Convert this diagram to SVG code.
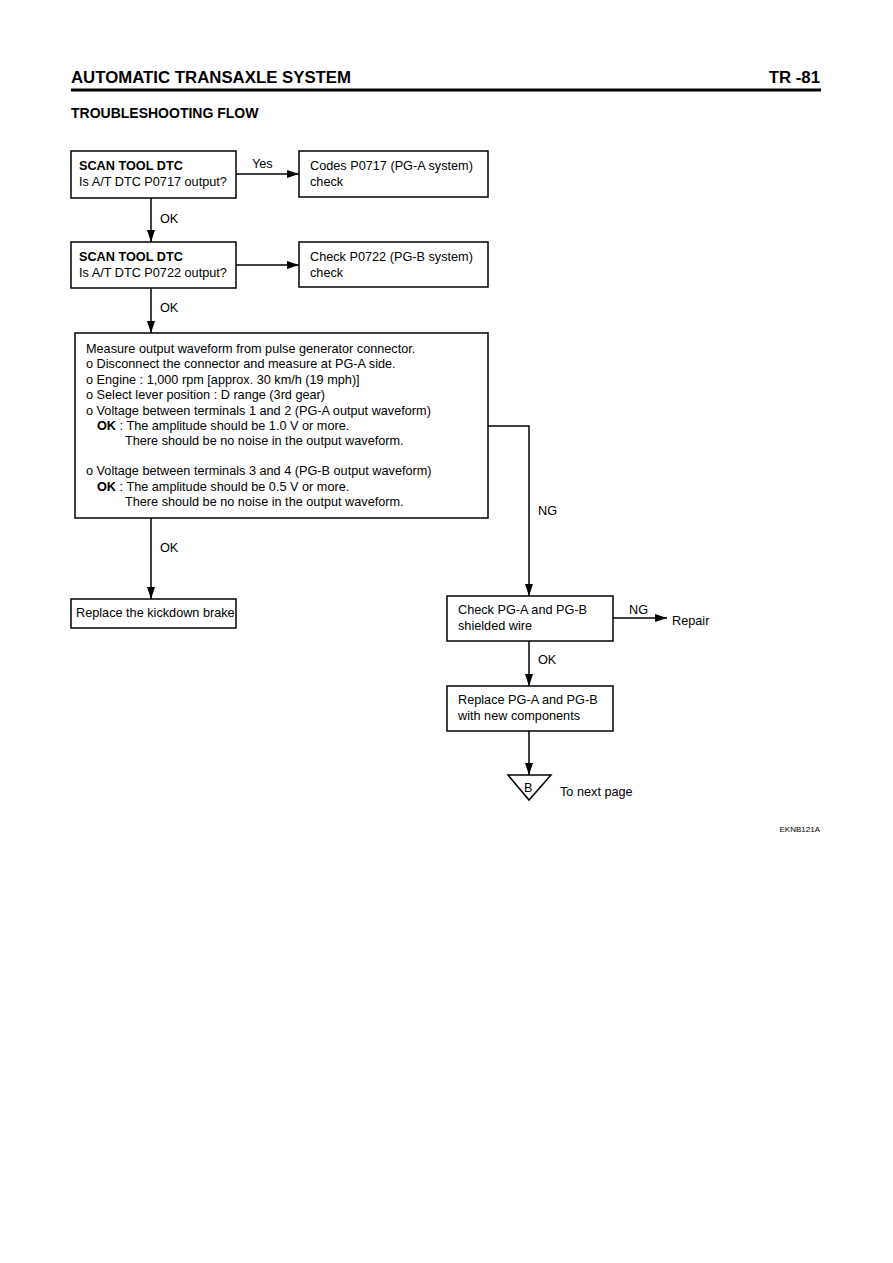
<svg xmlns="http://www.w3.org/2000/svg" width="893" height="1263" viewBox="0 0 893 1263">
<defs>
<marker id="ah" markerWidth="12" markerHeight="8" refX="12" refY="4" orient="auto" markerUnits="userSpaceOnUse">
<path d="M0,0 L12,4 L0,8 Z" fill="#000"/>
</marker>
<style>
text{font-family:"Liberation Sans",Arial,sans-serif;font-size:12.7px;fill:#000}
.b{font-weight:bold}
.box{fill:#fff;stroke:#000;stroke-width:1.5}
.ln{fill:none;stroke:#000;stroke-width:1.5}
.ar{fill:none;stroke:#000;stroke-width:1.5;marker-end:url(#ah)}
</style>
</defs>
<rect width="893" height="1263" fill="#fff"/>
<g id="header">
<text x="71" y="83" class="b" style="font-size:16.8px">AUTOMATIC TRANSAXLE SYSTEM</text>
<text x="820" y="83" class="b" style="font-size:16.8px" text-anchor="end">TR -81</text>
<rect x="71" y="88.5" width="750" height="3" fill="#000"/>
<text x="71" y="118" class="b" style="font-size:14px">TROUBLESHOOTING FLOW</text>
<text x="820" y="832" style="font-size:8px" text-anchor="end">EKNB121A</text>
</g>
<g id="connectors">
<line class="ar" x1="236" y1="174" x2="299" y2="174"/>
<text x="252" y="168">Yes</text>
<line class="ar" x1="151" y1="198" x2="151" y2="242"/>
<text x="160" y="223">OK</text>
<line class="ar" x1="236" y1="265" x2="299" y2="265"/>
<line class="ar" x1="151" y1="288" x2="151" y2="333"/>
<text x="160" y="312">OK</text>
<polyline class="ar" points="488,426 529,426 529,596"/>
<text x="538" y="515">NG</text>
<line class="ar" x1="151" y1="518" x2="151" y2="599"/>
<text x="160" y="552">OK</text>
<line class="ar" x1="613" y1="618" x2="667" y2="618"/>
<text x="629" y="614">NG</text>
<line class="ar" x1="529" y1="641" x2="529" y2="686"/>
<text x="538" y="664">OK</text>
<line class="ar" x1="529" y1="731" x2="529" y2="775"/>
</g>
<g id="n1">
<rect class="box" x="71" y="151" width="165" height="47"/>
<text x="79" y="170" class="b">SCAN TOOL DTC</text>
<text x="79" y="186">Is A/T DTC P0717 output?</text>
</g>
<g id="n2">
<rect class="box" x="299" y="151" width="189" height="46"/>
<text x="310" y="170">Codes P0717 (PG-A system)</text>
<text x="310" y="186">check</text>
</g>
<g id="n3">
<rect class="box" x="71" y="242" width="165" height="46"/>
<text x="79" y="261" class="b">SCAN TOOL DTC</text>
<text x="79" y="277">Is A/T DTC P0722 output?</text>
</g>
<g id="n4">
<rect class="box" x="299" y="242" width="189" height="45"/>
<text x="310" y="261">Check P0722 (PG-B system)</text>
<text x="310" y="277">check</text>
</g>
<g id="n5">
<rect class="box" x="75" y="333" width="413" height="185"/>
<text x="86" y="353">Measure output waveform from pulse generator connector.</text>
<text x="86" y="368">o Disconnect the connector and measure at PG-A side.</text>
<text x="86" y="384">o Engine : 1,000 rpm [approx. 30 km/h (19 mph)]</text>
<text x="86" y="399">o Select lever position : D range (3rd gear)</text>
<text x="86" y="415">o Voltage between terminals 1 and 2 (PG-A output waveform)</text>
<text x="97" y="430"><tspan class="b">OK</tspan> : The amplitude should be 1.0 V or more.</text>
<text x="125" y="445">There should be no noise in the output waveform.</text>
<text x="86" y="475">o Voltage between terminals 3 and 4 (PG-B output waveform)</text>
<text x="97" y="491"><tspan class="b">OK</tspan> : The  amplitude should be 0.5 V or more.</text>
<text x="125" y="506">There should be no noise in the output waveform.</text>
</g>
<g id="n6">
<rect class="box" x="71" y="599" width="165" height="29"/>
<text x="76" y="617">Replace the kickdown brake</text>
</g>
<g id="n7">
<rect class="box" x="447" y="596" width="166" height="45"/>
<text x="458" y="614">Check PG-A and PG-B</text>
<text x="458" y="630">shielded wire</text>
</g>
<g id="n8">
<text x="672" y="625">Repair</text>
</g>
<g id="n9">
<rect class="box" x="447" y="686" width="166" height="45"/>
<text x="458" y="704">Replace PG-A and PG-B</text>
<text x="458" y="720">with new components</text>
</g>
<g id="n10">
<polygon class="box" points="508,775 551,775 529,800"/>
<text x="524" y="792">B</text>
<text x="560" y="796">To next page</text>
</g>
</svg>
